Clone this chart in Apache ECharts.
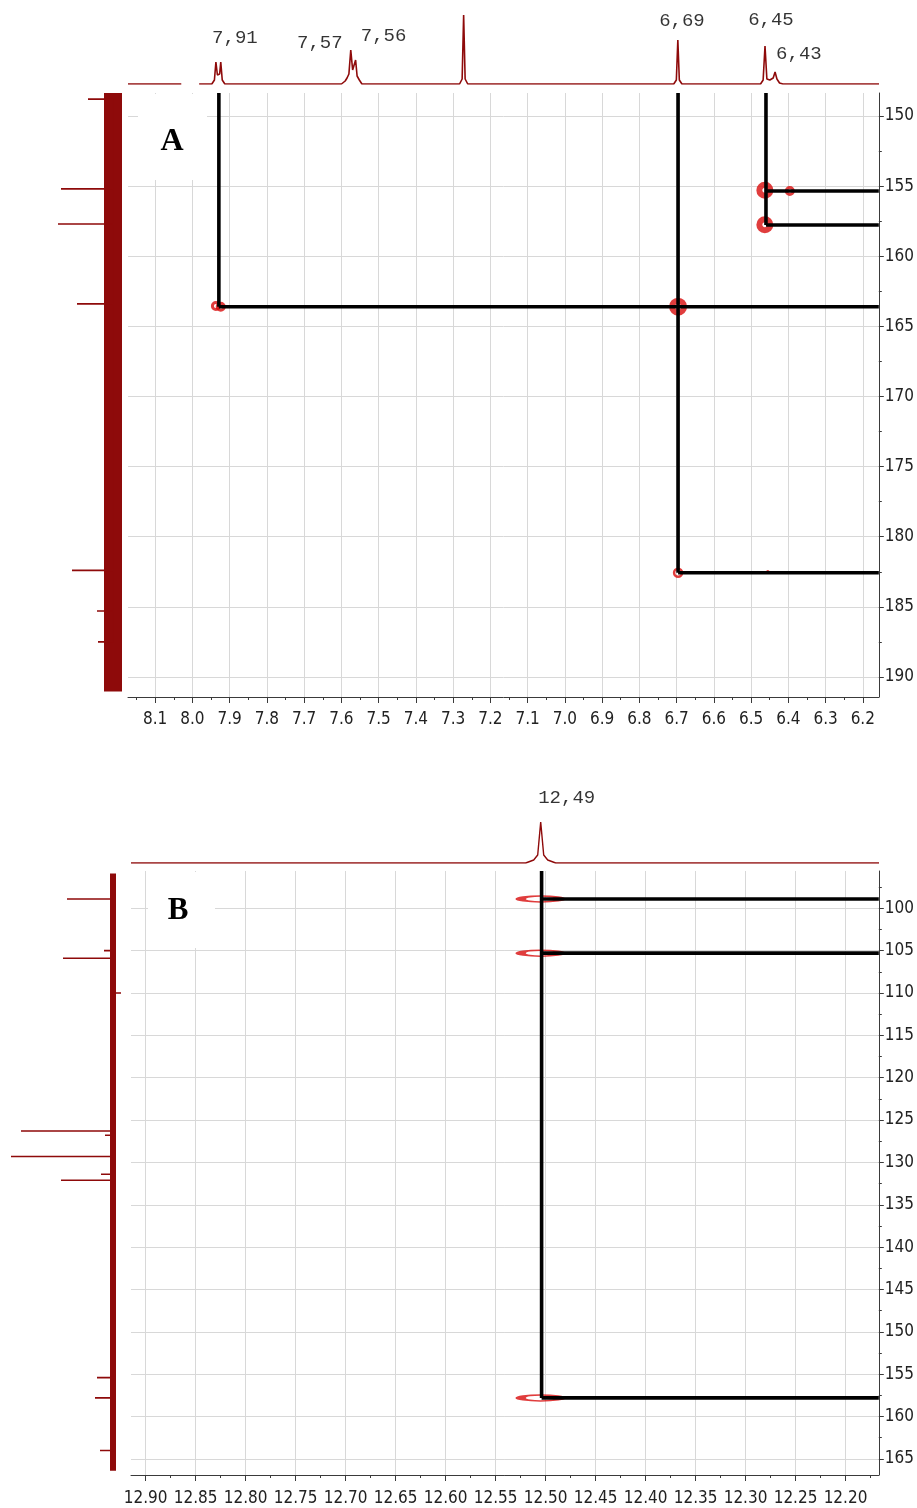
<!DOCTYPE html>
<html><head><meta charset="utf-8">
<script src="https://cdn.jsdelivr.net/npm/echarts@6/dist/echarts.min.js"></script>
<style>html,body{margin:0;padding:0;background:#fff}#c{width:917px;height:1508px}</style>
</head><body><div id="c"></div>
<script>
// ===================== PANEL A =====================
// 1H projection (ppm, intensity) - left fragment and main trace
const hSpecA_left = [[8.173,0],[8.030,0]];
const hSpecA = [
  [7.982,0],[7.948,0],[7.941,4],[7.937,22],[7.933,9],[7.930,8],[7.927,10],[7.924,22],[7.920,4],[7.913,0],
  [7.600,0],[7.590,3],[7.585,6],[7.580,10],[7.575,34],[7.570,14],[7.566,16],[7.562,24],[7.558,8],[7.552,4],[7.545,0],
  [7.283,0],[7.276,5],[7.272,69],[7.268,5],[7.261,0],
  [6.708,0],[6.701,4],[6.697,44],[6.693,4],[6.686,0],
  [6.475,0],[6.468,4],[6.463,38],[6.458,5],[6.450,4],[6.441,6],[6.436,12],[6.431,5],[6.424,1],[6.415,0],
  [6.157,0]
];
// peak labels: text, ppm, intensity
const hLabelsA = [['7,91',7.886,46],['7,57',7.658,41],['7,56',7.487,48],['6,69',6.686,63],['6,45',6.447,64],['6,43',6.372,30]];
// 13C projection peaks (ppm, intensity)
const cPeaksA = [[148.8,25],[155.2,52],[157.7,55],[163.4,36],[182.4,41],[185.3,16],[187.5,15]];
// HMBC cross peaks (1H ppm, 13C ppm, contour size, ring width)
const crossA = [[7.937,163.55,7,3],[7.924,163.6,7,3],[6.696,163.6,12,6],[6.696,182.57,8,2.5],[6.463,155.3,11,6],[6.396,155.35,7,3],[6.463,157.75,11,6],[6.455,182.5,2,1.5]];
// correlation guide lines
const vertA = [[7.929,163.6],[6.696,182.57],[6.460,157.77]];
const horA = [[7.929,163.6],[6.696,182.57],[6.460,155.35],[6.460,157.77]];
// axes
const xRangeA = [6.157, 8.173];
const yRangeA = [148.36, 191.43];
const xTicksA = [8.1,8.0,7.9,7.8,7.7,7.6,7.5,7.4,7.3,7.2,7.1,7.0,6.9,6.8,6.7,6.6,6.5,6.4,6.3,6.2];
const xMinorA = [8.15,8.05,7.95,7.85,7.75,7.65,7.55,7.45,7.35,7.25,7.15,7.05,6.95,6.85,6.75,6.65,6.55,6.45,6.35,6.25];
const yTicksA = [150,155,160,165,170,175,180,185,190];
const yMinorA = [152.5,157.5,162.5,167.5,172.5,177.5,182.5,187.5];

// ===================== PANEL B =====================
const hSpecB = [[12.9147,0],[12.520,0],[12.512,3],[12.508,8],[12.505,41],[12.502,8],[12.498,3],[12.490,0],[12.1667,0]];
const hLabelsB = [['12,49',12.479,65]];
const cPeaksB = [[98.9,46],[105.0,9],[105.9,50],[110.0,-8],[126.3,92],[126.8,8],[129.3,102],[131.4,12],[132.1,52],[155.4,16],[157.8,18],[164.0,13]];
const crossB = [[12.505,98.9,40,6,4],[12.505,105.3,40,6,4],[12.505,157.8,40,6,4]];
const vertB = [[12.504,157.8]];
const horB = [[12.504,98.9],[12.504,105.3],[12.504,157.8]];
const xRangeB = [12.1667, 12.9147];
const yRangeB = [95.6, 166.9];
const xTicksB = [12.90,12.85,12.80,12.75,12.70,12.65,12.60,12.55,12.50,12.45,12.40,12.35,12.30,12.25,12.20];
const xMinorB = [12.875,12.825,12.775,12.725,12.675,12.625,12.575,12.525,12.475,12.425,12.375,12.325,12.275,12.225,12.175];
const yTicksB = [100,105,110,115,120,125,130,135,140,145,150,155,160,165];
const yMinorB = [97.5,102.5,107.5,112.5,117.5,122.5,127.5,132.5,137.5,142.5,147.5,152.5,157.5,162.5];

// ===================== STYLE =====================
const RED = '#8e0a0a';
const PEAKRED = '#d80c0c';
const AXC = '#3a3a3a';
const GRIDC = '#d8d8d8';
const FONT = "'DejaVu Sans Condensed','Liberation Sans Narrow','DejaVu Sans',sans-serif";
const MONO = "'Liberation Mono','DejaVu Sans Mono',monospace";

function hidden(gridIndex, min, max, inverse){
  return {gridIndex, type:'value', min, max, inverse:!!inverse, show:false};
}
function mainX(gridIndex, range, ticks, digits, fs, margin){
  return {gridIndex, type:'value', min:range[0], max:range[1], inverse:true, position:'bottom',
    axisLine:{show:true, onZero:false, lineStyle:{color:AXC, width:1}},
    axisTick:{show:true, customValues:ticks, length:6, lineStyle:{color:AXC}},
    axisLabel:{show:true, customValues:ticks, formatter:v=>Number(v).toFixed(digits), fontSize:fs, color:'#222', fontFamily:FONT, margin},
    splitLine:{show:true, lineStyle:{color:GRIDC, width:1}}, minorTick:{show:false}, minorSplitLine:{show:false}};
}
function minorX(gridIndex, range, ticks){
  return {gridIndex, type:'value', min:range[0], max:range[1], inverse:true, position:'bottom',
    axisLine:{show:false, onZero:false}, axisTick:{show:true, customValues:ticks, length:3, lineStyle:{color:AXC}},
    axisLabel:{show:false}, splitLine:{show:false}};
}
function mainY(gridIndex, range, ticks, fs, margin){
  return {gridIndex, type:'value', min:range[0], max:range[1], inverse:true, position:'right',
    axisLine:{show:true, onZero:false, lineStyle:{color:AXC, width:1}},
    axisTick:{show:true, customValues:ticks, length:5, lineStyle:{color:AXC}},
    axisLabel:{show:true, customValues:ticks, formatter:v=>String(Math.round(v)), fontSize:fs, color:'#222', fontFamily:FONT, margin},
    splitLine:{show:true, lineStyle:{color:GRIDC, width:1}}};
}
function minorY(gridIndex, range, ticks){
  return {gridIndex, type:'value', min:range[0], max:range[1], inverse:true, position:'right',
    axisLine:{show:false, onZero:false}, axisTick:{show:true, customValues:ticks, length:3, lineStyle:{color:AXC}},
    axisLabel:{show:false}, splitLine:{show:false}};
}
function specLine(xi, yi, data, color, width, z){
  return {type:'line', xAxisIndex:xi, yAxisIndex:yi, data, symbol:'none', showSymbol:false, silent:true,
    lineStyle:{color, width}, z:z||2, animation:false};
}
function labelSeries(xi, yi, labels){
  return {type:'scatter', xAxisIndex:xi, yAxisIndex:yi, symbolSize:0, clip:false, silent:true, z:6,
    data: labels.map(l=>({value:[l[1], l[2]], label:{formatter:l[0]}})),
    label:{show:true, position:'inside', fontFamily:MONO, fontSize:19, color:'#000'}};
}
function stickData(peaks){
  const out = [];
  peaks.forEach(p=>{ out.push([0,p[0]],[p[1],p[0]],[0,p[0]]); });
  return out;
}
function crossSeries(xi, yi, data){
  return {type:'scatter', xAxisIndex:xi, yAxisIndex:yi, symbol:'circle', silent:true, z:3,
    data: data.map(d=>({
      value:[d[0], d[1]],
      symbolSize: d.length > 4 ? [d[2], d[3]] : d[2],
      itemStyle:{color:'rgba(255,255,255,0)', borderColor:PEAKRED, borderWidth: d.length > 4 ? d[4] : d[3]}
    }))};
}
function corrSeries(xi, yi, verts, hors, yTop, xRight){
  const s = [];
  verts.forEach(v=>s.push(specLine(xi, yi, [[v[0], yTop],[v[0], v[1]]], '#000', 3.6, 5)));
  hors.forEach(h=>s.push(specLine(xi, yi, [[h[0], h[1]],[xRight, h[1]]], '#000', 3.6, 5)));
  return s;
}

const option = {
  animation:false,
  backgroundColor:'#fff',
  grid:[
    {left:128, top:14, width:751, height:70},   // 0 A 1H projection
    {left:0, top:93, width:125, height:604},    // 1 A 13C projection
    {left:128, top:93, width:751, height:604},  // 2 A main
    {left:131, top:821, width:748, height:42},  // 3 B 1H projection
    {left:0, top:871, width:125, height:604},   // 4 B 13C projection
    {left:131, top:871, width:748, height:604}  // 5 B main
  ],
  xAxis:[
    hidden(0, xRangeA[0], xRangeA[1], true),
    hidden(1, -12, 113, true),
    mainX(2, xRangeA, xTicksA, 1, 17, 14),
    minorX(2, xRangeA, xMinorA),
    hidden(3, xRangeB[0], xRangeB[1], true),
    hidden(4, -12, 113, true),
    mainX(5, xRangeB, xTicksB, 2, 17, 15),
    minorX(5, xRangeB, xMinorB)
  ],
  yAxis:[
    hidden(0, 0, 70, false),
    hidden(1, yRangeA[0], yRangeA[1], true),
    mainY(2, yRangeA, yTicksA, 17, 6),
    minorY(2, yRangeA, yMinorA),
    hidden(3, 0, 42, false),
    hidden(4, yRangeB[0], yRangeB[1], true),
    mainY(5, yRangeB, yTicksB, 17, 6),
    minorY(5, yRangeB, yMinorB)
  ],
  series:[
    // Panel A
    specLine(0, 0, hSpecA_left, RED, 1.6),
    specLine(0, 0, hSpecA, RED, 1.6),
    labelSeries(0, 0, hLabelsA),
    specLine(1, 1, [[0, yRangeA[0]],[0, yRangeA[1]-0.4]], RED, 18),
    specLine(1, 1, stickData(cPeaksA), RED, 1.6),
    crossSeries(2, 2, crossA),
    ...corrSeries(2, 2, vertA, horA, yRangeA[0], xRangeA[0]),
    // Panel B
    specLine(4, 4, hSpecB, RED, 1.4),
    labelSeries(4, 4, hLabelsB),
    specLine(5, 5, [[0, yRangeB[0]+0.3],[0, yRangeB[1]-0.5]], RED, 6),
    specLine(5, 5, stickData(cPeaksB), RED, 1.6),
    crossSeries(6, 6, crossB),
    ...corrSeries(6, 6, vertB, horB, yRangeB[0], xRangeB[0])
  ],
  graphic:[
    {type:'rect', z:100, shape:{x:138, y:94, width:69, height:86}, style:{fill:'#fff'}},
    {type:'text', z:101, x:172, y:142, style:{text:'A', font:"bold 32px 'Liberation Serif', 'Times New Roman', serif", fill:'#000', align:'center', verticalAlign:'middle'}},
    {type:'rect', z:100, shape:{x:148, y:872, width:67, height:76}, style:{fill:'#fff'}},
    {type:'text', z:101, x:178, y:911, style:{text:'B', font:"bold 31px 'Liberation Serif', 'Times New Roman', serif", fill:'#000', align:'center', verticalAlign:'middle'}}
  ]
};
const chart = echarts.init(document.getElementById('c'), null, {renderer:'canvas'});
chart.setOption(option);
</script></body></html>
